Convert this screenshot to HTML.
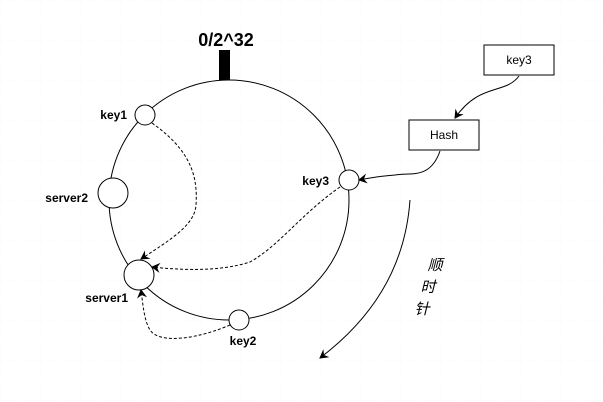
<!DOCTYPE html>
<html><head><meta charset="utf-8"><style>
html,body{margin:0;padding:0;background:#fff}
svg{display:block}
text{font-family:"Liberation Sans","Noto Sans CJK SC",sans-serif}
</style></head><body>
<svg width="603" height="402" viewBox="0 0 603 402" xmlns="http://www.w3.org/2000/svg">
<defs>
<pattern id="g" width="40" height="40" patternUnits="userSpaceOnUse">
<path d="M0 0H40M0 0V40" stroke="#f3f3f3" stroke-width="1" stroke-dasharray="1 2"/>
</pattern>
<marker id="a" markerWidth="10" markerHeight="10" refX="8" refY="5" orient="auto" markerUnits="userSpaceOnUse">
<path d="M0,0 L9,5 L0,10 L3,5 Z" fill="#000"/>
</marker>
</defs>
<rect width="603" height="402" fill="url(#g)"/>
<circle cx="229" cy="200" r="120" fill="none" stroke="#000" stroke-width="1"/>
<rect x="219" y="50" width="11" height="30" fill="#000"/>
<text x="226" y="46" font-size="18" font-weight="bold" text-anchor="middle">0/2^32</text>

<g fill="#fff" stroke="#000">
<circle cx="145" cy="115" r="10"/>
<circle cx="113" cy="193" r="15"/>
<circle cx="139" cy="275" r="15"/>
<circle cx="239" cy="320" r="10"/>
<circle cx="349" cy="180" r="10"/>
</g>
<g font-size="12" font-weight="bold">
<text x="127" y="119" text-anchor="end">key1</text>
<text x="88" y="202" text-anchor="end">server2</text>
<text x="128" y="302" text-anchor="end">server1</text>
<text x="243" y="345" text-anchor="middle">key2</text>
<text x="329" y="185" text-anchor="end">key3</text>
</g>

<g fill="none" stroke="#000" stroke-dasharray="3 2">
<path d="M152 123 C190 150 198 175 196 205 C195 225 170 240 141 259" marker-end="url(#a)"/>
<path d="M340 187 C300 215 280 245 250 262 C220 272 180 270 152 267" marker-end="url(#a)"/>
<path d="M230 325 C200 338 160 345 150 330 C144 320 143 305 141 290" marker-end="url(#a)"/>
</g>

<rect x="484" y="45" width="70" height="30" fill="#fff" stroke="#000"/>
<text x="519" y="64" font-size="12" text-anchor="middle">key3</text>
<rect x="409" y="120" width="70" height="30" fill="#fff" stroke="#000"/>
<text x="444" y="139" font-size="12" text-anchor="middle">Hash</text>

<g fill="none" stroke="#000">
<path d="M519 76 C505 95 480 82 455 118" marker-end="url(#a)"/>
<path d="M440 151 C430 180 410 172 395 175 C380 176 370 178 359 180" marker-end="url(#a)"/>
<path d="M410 200 C405 270 370 320 320 358" marker-end="url(#a)"/>
</g>
<g font-size="15" font-style="italic" text-anchor="middle">
<text x="435" y="270">顺</text>
<text x="428" y="292">时</text>
<text x="422" y="314">针</text>
</g>
</svg>
</body></html>
